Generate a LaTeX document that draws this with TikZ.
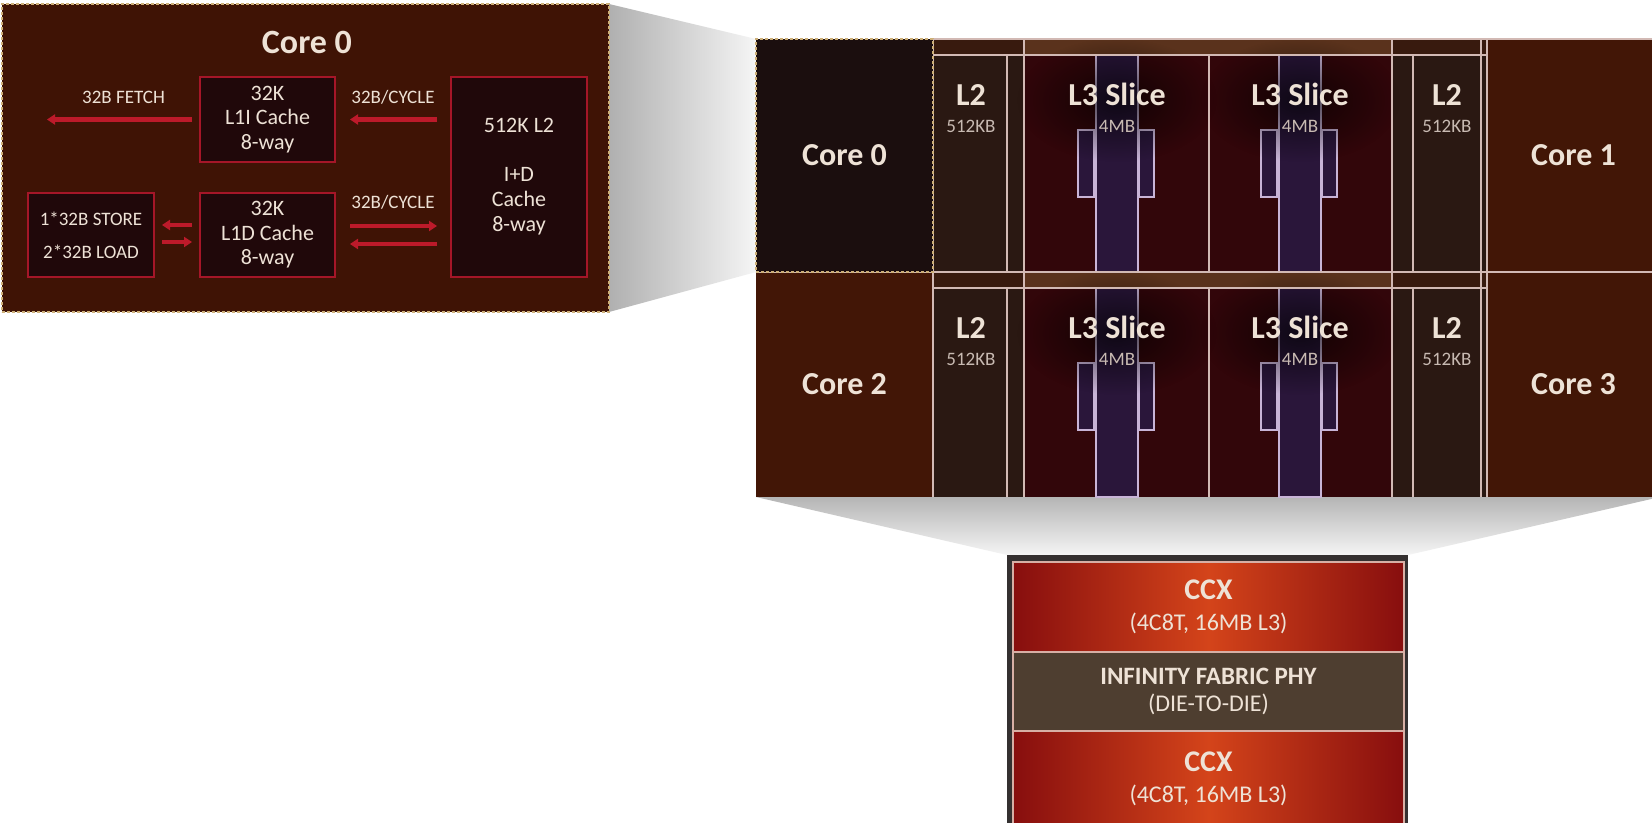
\documentclass[tikz,border=0pt]{standalone}
\usepackage{fontspec}
\setmainfont{Carlito}
\usepackage{tikz}
\usetikzlibrary{calc,arrows.meta,fadings}

\definecolor{panelbg}{RGB}{63,19,5}
\definecolor{boxred}{RGB}{165,22,40}
\definecolor{boxfill}{RGB}{32,8,10}
\definecolor{arrowred}{RGB}{188,26,42}
\definecolor{txtclr}{RGB}{238,226,214}
\definecolor{subclr}{RGB}{200,186,178}
\definecolor{dashclr}{RGB}{205,175,120}
\definecolor{coredark}{RGB}{27,14,14}
\definecolor{corebrown}{RGB}{66,22,6}
\definecolor{l2fill}{RGB}{42,24,18}
\definecolor{l3fill}{RGB}{50,6,10}
\definecolor{stripl}{RGB}{90,50,28}
\definecolor{stripd}{RGB}{56,26,14}
\definecolor{lineclr}{RGB}{210,185,180}
\definecolor{barfill}{RGB}{42,22,58}
\definecolor{barline}{RGB}{200,180,215}
\definecolor{frameclr}{RGB}{52,48,48}
\definecolor{ifclr}{RGB}{78,62,48}
\definecolor{ccxedge}{RGB}{135,14,14}
\definecolor{ccxmid}{RGB}{212,68,26}
\definecolor{sepclr}{RGB}{215,175,165}

\tikzfading[name=glowfade,inner color=transparent!15,outer color=transparent!100]

\begin{document}
\begin{tikzpicture}[x=1pt,y=-1pt,>={Triangle[length=8pt,width=10pt]},
    lbl/.style={text=txtclr,inner sep=0pt,align=center},
    cachebox/.style={lbl,draw=boxred,line width=1.6pt,fill=boxfill,outer sep=0pt,font=\fontsize{22}{24.5}\selectfont},
    redarrow/.style={->,draw=arrowred,line width=4.5pt},
    arrowlbl/.style={lbl,font=\fontsize{19}{19}\selectfont},
    corebox/.style={lbl,outer sep=0pt,font=\fontsize{32}{32}\selectfont\bfseries},
    dashbox/.style={draw=dashclr,line width=1.2pt,dash pattern=on 3pt off 2pt},
    dieline/.style={draw=lineclr,line width=1.5pt},
    barbox/.style={fill=barfill,draw=barline,line width=1.2pt},
    cachelbl/.style={lbl,anchor=north,font=\fontsize{19}{27}\selectfont},
    sectbox/.style={lbl,draw=sepclr,line width=1.2pt,outer sep=0pt,minimum width=391pt},
    ccxbox/.style={sectbox,left color=ccxedge,right color=ccxedge,middle color=ccxmid,font=\fontsize{24}{31}\selectfont},
  ]
  \fill[white] (0,0) rectangle (1652,822);
  \useasboundingbox (0,0) rectangle (1652,822);

  % zoom wedges
  \coordinate (zne) at (609,4);
  \coordinate (zse) at (609,312);
  \coordinate (cnw) at (756,39);
  \coordinate (csw) at (756,272);
  \shade[left color=gray!62,right color=gray!8] (zne) -- (cnw) -- (csw) -- (zse) -- cycle;
  \coordinate (dsw) at (756,497);
  \coordinate (dse) at (1660,497);
  \coordinate (pne) at (1408,555);
  \coordinate (pnw) at (1007,555);
  \shade[top color=gray!58,bottom color=gray!8] (dsw) -- (dse) -- (pne) -- (pnw) -- cycle;

  % core 0 close-up
  \node[dashbox,fill=panelbg,minimum width=607pt,minimum height=308pt,outer sep=0pt] (zoom) at (305.5,158) {};
  \node[lbl,font=\fontsize{34}{34}\selectfont\bfseries] (ztitle) at (307,42) {Core 0};

  \node[cachebox,minimum width=135pt,minimum height=85pt] (l1i) at (267.5,119.5) {32K\\L1I Cache\\8-way};
  \node[cachebox,minimum width=135pt,minimum height=84pt] (l1d) at (267.5,235) {32K\\L1D Cache\\8-way};
  \node[cachebox,minimum width=126pt,minimum height=84pt,font=\fontsize{19}{33}\selectfont] (ldst) at (91,235) {1*32B STORE\\2*32B LOAD};
  \node[cachebox,minimum width=136pt,minimum height=200pt,font=\fontsize{22}{25}\selectfont] (l2big) at (519,177) {512K L2\\[24pt]I+D\\Cache\\8-way};

  \coordinate (fetch) at (47,119.5);
  \draw[redarrow,shorten <=8pt] (l1i.west) -- (fetch) node[arrowlbl,midway,yshift=22pt] (lblfetch) {32B FETCH};
  \draw[redarrow,shorten <=14pt,shorten >=15pt] (l2big.west |- l1i.east) -- (l1i.east) node[arrowlbl,midway,yshift=22pt] (lblcyc1) {32B/CYCLE};
  \draw[redarrow,shorten <=15pt,shorten >=14pt] ([yshift=9pt]l1d.east) -- ([yshift=9pt]l1d.east -| l2big.west) node[arrowlbl,midway,yshift=24pt] (lblcyc2) {32B/CYCLE};
  \draw[redarrow,shorten <=14pt,shorten >=15pt] ([yshift=-9pt]l1d.east -| l2big.west) -- ([yshift=-9pt]l1d.east);
  \draw[redarrow,shorten <=8pt,shorten >=8pt] ([yshift=10pt]l1d.west) -- ([yshift=10pt]ldst.east);
  \draw[redarrow,shorten <=8pt,shorten >=8pt] ([yshift=-7pt]ldst.east) -- ([yshift=-7pt]l1d.west);

  % CCX die
  \foreach \ya in {39,272} {
    \fill[stripd] (933,\ya) rectangle (1024,\ya+16);
    \fill[stripl] (1024,\ya) rectangle (1392,\ya+16);
    \fill[stripd] (1392,\ya) rectangle (1487,\ya+16);
  }
  \foreach \ya/\yb [count=\r] in {55/272,288/497} {
    \fill[l2fill] (933,\ya) rectangle (1024,\yb);
    \fill[l3fill] (1024,\ya) rectangle (1392,\yb);
    \fill[l2fill] (1392,\ya) rectangle (1487,\yb);
    \foreach \c [count=\s] in {1117,1300} {
      \draw[barbox] (\c-21,\ya) rectangle (\c+21,\yb);
      \draw[barbox] (\c-39,\ya+75) rectangle (\c-23,\ya+142);
      \draw[barbox] (\c+22,\ya+75) rectangle (\c+37,\ya+142);
      \fill[black,opacity=0.75,path fading=glowfade] (\c,\ya+45) ellipse (100 and 62);
      \node[cachelbl] (l3-\r-\s) at (\c,\ya+28) {{\fontsize{32}{32}\selectfont\bfseries L3 Slice}\\\textcolor{subclr}{4MB}};
    }
    \node[cachelbl] (l2-\r-1) at (971,\ya+29) {{\fontsize{32}{32}\selectfont\bfseries L2}\\\textcolor{subclr}{512KB}};
    \node[cachelbl] (l2-\r-2) at (1447,\ya+29) {{\fontsize{32}{32}\selectfont\bfseries L2}\\\textcolor{subclr}{512KB}};
  }
  \node[corebox,fill=corebrown,minimum width=177pt,minimum height=225pt] (core2) at (844.5,384.5) {Core 2};
  \node[corebox,fill=corebrown,minimum width=173pt,minimum height=233pt] (core1) at (1573.5,155.5) {Core 1};
  \node[corebox,fill=corebrown,minimum width=173pt,minimum height=225pt] (core3) at (1573.5,384.5) {Core 3};
  \draw[dieline] (933,39) -- (1660,39) (933,55) -- (1487,55) (756,272) -- (1660,272) (933,288) -- (1487,288);
  \foreach \x in {933,1024,1392,1481,1487}
    \draw[dieline] (\x,39) -- (\x,497);
  \foreach \x in {1007,1209,1413}
    \draw[dieline] (\x,55) -- (\x,272) (\x,288) -- (\x,497);
  \node[corebox,dashbox,fill=coredark,minimum width=177pt,minimum height=233pt] (core0) at (844.5,155.5) {Core 0};

  % package view
  \node[fill=frameclr,minimum width=401pt,minimum height=275pt,outer sep=0pt,inner sep=0pt] (pkg) at (1207.5,692.5) {};
  \node[ccxbox,minimum height=90pt] (ccx1) at (1208.5,607) {{\fontsize{30}{30}\selectfont\bfseries CCX}\\(4C8T, 16MB L3)};
  \node[sectbox,fill=ifclr,minimum height=79pt,font=\fontsize{24}{27}\selectfont] (ifop) at (1208.5,691.5) {{\fontsize{25}{25}\selectfont\bfseries INFINITY FABRIC PHY}\\(DIE-TO-DIE)};
  \node[ccxbox,minimum height=95pt] (ccx2) at (1208.5,778.5) {{\fontsize{30}{30}\selectfont\bfseries CCX}\\(4C8T, 16MB L3)};
\end{tikzpicture}
\end{document}
